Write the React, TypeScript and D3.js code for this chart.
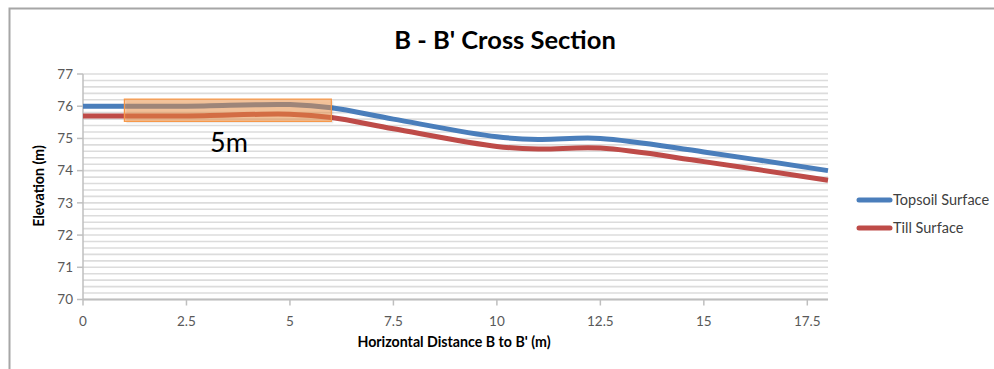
import React from "react";
import * as d3 from "d3";

const distances = [0, 2.5, 5, 6, 7.5, 10, 11, 12.5, 15, 18];
const topsoil = [76, 76, 76.05, 75.95, 75.6, 75.05, 74.97, 75.0, 74.58, 74.0];
const till = [75.7, 75.7, 75.75, 75.65, 75.3, 74.75, 74.67, 74.7, 74.28, 73.7];
const xTicks = [0, 2.5, 5, 7.5, 10, 12.5, 15, 17.5];
const yTicks = [70, 71, 72, 73, 74, 75, 76, 77];
const highlight = { x0: 1, x1: 6, y0: 75.53, y1: 76.22, label: "5m" };
const seriesNames = ["Topsoil Surface", "Till Surface"];
const seriesColors = ["#4a7ebb", "#be4b48"];

const W = 994, H = 369;
const M = { left: 83, right: 828, top: 74, bottom: 299.5 };

export default function App() {
  const x = d3.scaleLinear().domain([0, 18]).range([M.left, M.right]);
  const y = d3.scaleLinear().domain([70, 77]).range([M.bottom, M.top]);
  const line = d3
    .line<number>()
    .x((_, i) => x(distances[i]))
    .y((d) => y(d))
    .curve(d3.curveCatmullRom.alpha(0.5));
  const grid = d3.range(70, 77.0001, 0.2);
  const font = "Lato, 'Open Sans', sans-serif";
  const series = [topsoil, till];
  return (
    <svg width={W} height={H} style={{ position: "absolute", left: 0, top: 0 }} fontFamily={font}>
      <rect x={0} y={0} width={W} height={H} fill="#fff" />
      <path d={`M9.5,${H} V8.5 H${W}`} fill="none" stroke="#a6a6a6" strokeWidth={2} />
      <text x={505} y={49} textAnchor="middle" fontSize={25.5} fontWeight="bold" fill="#000">
        B - B' Cross Section
      </text>
      {grid.map((g, i) => (
        <line key={i} x1={M.left} x2={M.right} y1={y(g)} y2={y(g)} stroke="#dcdcdc" strokeWidth={1.6} />
      ))}
      <line x1={M.left} x2={M.left} y1={M.top} y2={M.bottom} stroke="#bfbfbf" strokeWidth={1.5} />
      <line x1={M.left} x2={M.right} y1={M.bottom} y2={M.bottom} stroke="#bfbfbf" strokeWidth={2} />
      {yTicks.map((t) => (
        <g key={t}>
          <line x1={M.left - 6} x2={M.left} y1={y(t)} y2={y(t)} stroke="#bfbfbf" strokeWidth={1.5} />
          <text x={M.left - 10} y={y(t)} dy="0.35em" textAnchor="end" fontSize={13.5} fill="#595959">
            {t}
          </text>
        </g>
      ))}
      {xTicks.map((t) => (
        <g key={t}>
          <line x1={x(t)} x2={x(t)} y1={M.bottom} y2={M.bottom + 6} stroke="#bfbfbf" strokeWidth={1.5} />
          <text x={x(t)} y={M.bottom + 26} textAnchor="middle" fontSize={13.5} fill="#595959">
            {t}
          </text>
        </g>
      ))}
      <text x={454} y={347} textAnchor="middle" fontSize={14.2} fontWeight="bold" fill="#000">
        Horizontal  Distance B to B' (m)
      </text>
      <text
        transform={`translate(44,186) rotate(-90)`}
        textAnchor="middle"
        fontSize={14.2}
        fontWeight="bold"
        fill="#000"
      >
        Elevation (m)
      </text>
      {series.map((s, i) => (
        <path key={i} d={line(s) || ""} fill="none" stroke={seriesColors[i]} strokeWidth={5} />
      ))}
      <rect
        x={x(highlight.x0) + 2}
        y={y(highlight.y1) + 2}
        width={x(highlight.x1) - x(highlight.x0)}
        height={y(highlight.y0) - y(highlight.y1)}
        fill="#000"
        opacity={0.08}
      />
      <rect
        x={x(highlight.x0)}
        y={y(highlight.y1)}
        width={x(highlight.x1) - x(highlight.x0)}
        height={y(highlight.y0) - y(highlight.y1)}
        fill="rgba(247,150,70,0.5)"
        stroke="#f79646"
        strokeWidth={1.2}
      />
      <text x={229} y={152} textAnchor="middle" fontSize={27} fill="#000">
        {highlight.label}
      </text>
      {seriesNames.map((n, i) => (
        <g key={n}>
          <line x1={859} x2={890} y1={200 + i * 28} y2={200 + i * 28} stroke={seriesColors[i]} strokeWidth={5} strokeLinecap="round" />
          <text x={893} y={200 + i * 28} dy="0.35em" fontSize={14.5} fill="#404040">
            {n}
          </text>
        </g>
      ))}
    </svg>
  );
}
